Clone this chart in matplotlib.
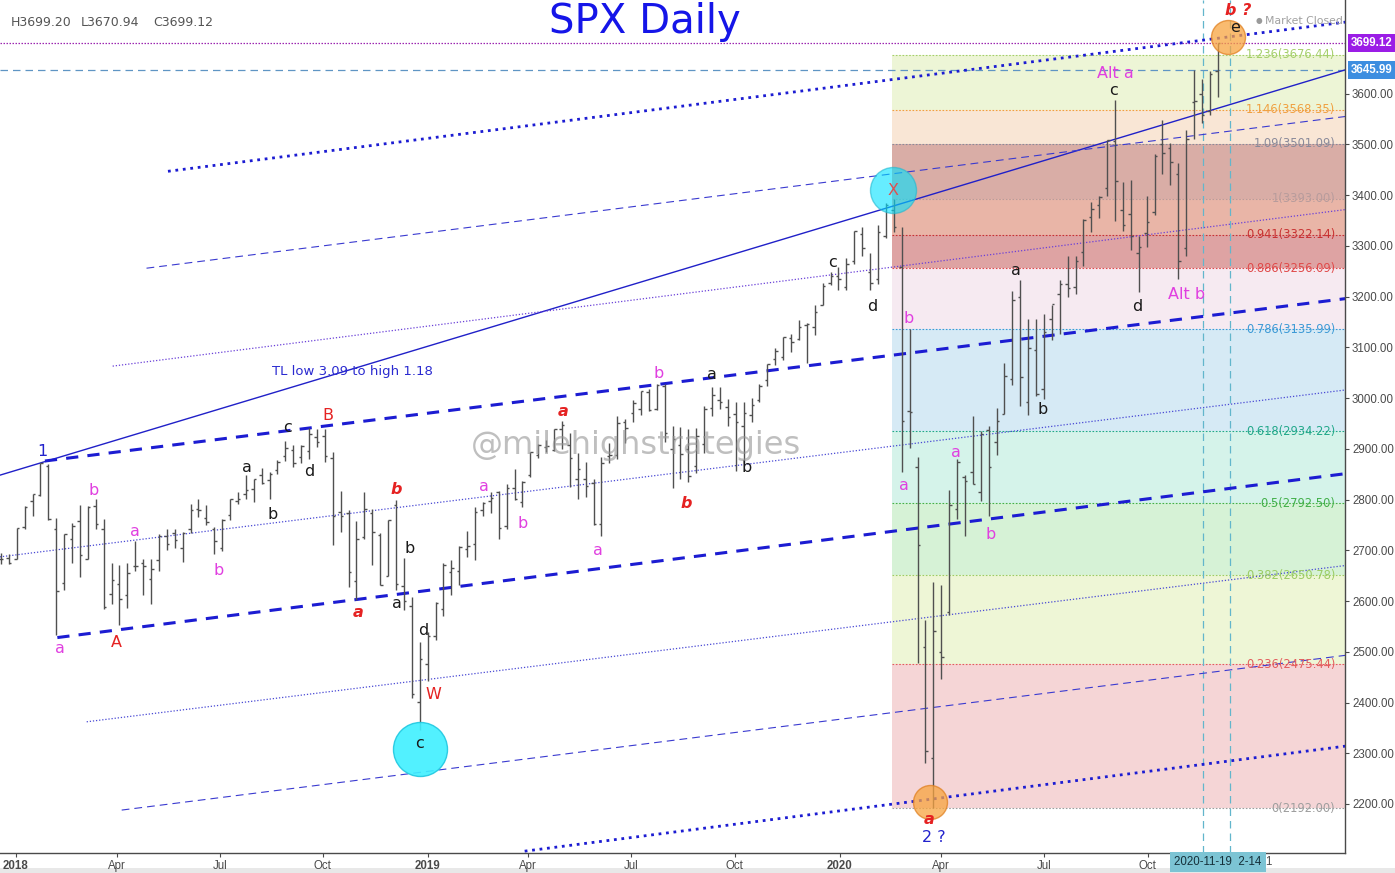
import matplotlib
matplotlib.use("Agg")
import matplotlib.pyplot as plt
import matplotlib.dates as mdates
import numpy as np
import pandas as pd
from matplotlib.collections import LineCollection
from matplotlib.patches import Rectangle

# ---------------- data (weekly OHLC of SPX, week ending Friday) ----------------
week_end = pd.date_range("2017-12-22", "2020-12-04", freq="W-FRI")

opens = [2683, 2684,
         2683, 2745, 2798, 2809, 2867, 2742, 2636, 2722, 2757, 2682, 2787, 2741, 2613,
         2634, 2611, 2670, 2675, 2643, 2680, 2728, 2735, 2705, 2742, 2781, 2763, 2742,
         2705, 2769, 2797, 2810, 2821, 2849, 2838, 2858, 2885, 2897, 2884, 2896, 2924,
         2926, 2882, 2775, 2773, 2640, 2726, 2773, 2730, 2649, 2790, 2630, 2590, 2401,
         2476, 2531, 2585, 2657, 2660, 2703, 2712, 2780, 2798, 2814, 2748, 2822, 2796,
         2848, 2888, 2904, 2898, 2940, 2908, 2840, 2841, 2832, 2751, 2885, 2887, 2952,
         2971, 2979, 3012, 2978, 3024, 2899, 2908, 2900, 2866, 2910, 2980, 2997, 2983,
         2968, 2945, 2966, 2996, 3035, 3078, 3081, 3118, 3117, 3144, 3141, 3183, 3227,
         3240, 3218, 3271, 3323, 3248, 3235, 3319, 3370, 3258, 2974, 2864, 2509, 2290,
         2499, 2578, 2782, 2845, 2854, 2815, 2937, 2913, 2969, 3038, 3199, 2993, 3094,
         3018, 3155, 3205, 3224, 3219, 3288, 3356, 3380, 3415, 3507, 3370, 3363, 3285,
         3325, 3367, 3500, 3493, 3441, 3296, 3583, 3600, 3566, 3645]
highs = [2695, 2692,
         2743, 2787, 2810, 2873, 2870, 2763, 2733, 2754, 2789, 2787, 2802, 2762, 2675,
         2672, 2674, 2718, 2683, 2682, 2732, 2742, 2742, 2737, 2791, 2801, 2790, 2746,
         2762, 2802, 2815, 2848, 2841, 2863, 2855, 2877, 2916, 2907, 2908, 2941, 2940,
         2940, 2894, 2816, 2779, 2757, 2815, 2781, 2735, 2760, 2800, 2685, 2607, 2520,
         2539, 2598, 2675, 2681, 2709, 2738, 2785, 2795, 2814, 2816, 2830, 2860, 2836,
         2894, 2910, 2918, 2940, 2954, 2931, 2892, 2874, 2840, 2884, 2911, 2964, 2959,
         2996, 3014, 3017, 3028, 3027, 2945, 2944, 2939, 2941, 2985, 3021, 3022, 2999,
         2993, 2993, 3000, 3027, 3067, 3098, 3120, 3127, 3154, 3148, 3183, 3226, 3248,
         3258, 3276, 3330, 3337, 3286, 3342, 3385, 3393, 3337, 3136, 2883, 2562, 2637,
         2632, 2819, 2880, 2848, 2965, 2935, 2945, 2981, 3069, 3211, 3233, 3156, 3155,
         3165, 3184, 3233, 3280, 3280, 3352, 3387, 3399, 3509, 3588, 3425, 3429, 3320,
         3398, 3482, 3549, 3502, 3464, 3529, 3646, 3628, 3644, 3699]
lows = [2673, 2673,
        2683, 2742, 2768, 2808, 2759, 2533, 2622, 2675, 2647, 2682, 2742, 2585, 2594,
        2553, 2587, 2660, 2612, 2594, 2660, 2701, 2705, 2676, 2735, 2765, 2749, 2692,
        2698, 2760, 2791, 2801, 2795, 2830, 2802, 2851, 2876, 2864, 2873, 2879, 2904,
        2874, 2710, 2737, 2628, 2603, 2722, 2671, 2632, 2649, 2621, 2583, 2409, 2346,
        2443, 2524, 2570, 2612, 2631, 2687, 2681, 2767, 2774, 2722, 2741, 2800, 2785,
        2845, 2882, 2893, 2896, 2900, 2825, 2801, 2805, 2750, 2728, 2873, 2880, 2912,
        2952, 2966, 2975, 2976, 2914, 2822, 2840, 2834, 2853, 2891, 2964, 2978, 2945,
        2856, 2873, 2952, 2993, 3023, 3066, 3075, 3091, 3115, 3070, 3124, 3183, 3223,
        3214, 3214, 3264, 3280, 3214, 3224, 3315, 3328, 2855, 2902, 2478, 2281, 2192,
        2447, 2573, 2761, 2728, 2830, 2797, 2767, 2888, 2969, 3025, 2984, 2966, 3004,
        2999, 3115, 3127, 3200, 3205, 3260, 3328, 3355, 3398, 3349, 3330, 3292, 3209,
        3297, 3361, 3441, 3419, 3234, 3280, 3511, 3543, 3558, 3594]
closes = [2683, 2674,
          2743, 2786, 2810, 2873, 2762, 2620, 2732, 2747, 2691, 2786, 2752, 2588, 2641,
          2604, 2656, 2670, 2670, 2663, 2728, 2713, 2721, 2735, 2779, 2780, 2755, 2718,
          2760, 2801, 2802, 2819, 2840, 2833, 2850, 2875, 2902, 2872, 2905, 2930, 2914,
          2886, 2767, 2768, 2658, 2723, 2781, 2736, 2632, 2760, 2633, 2600, 2417, 2486,
          2532, 2596, 2671, 2665, 2707, 2708, 2776, 2793, 2804, 2743, 2822, 2801, 2834,
          2893, 2907, 2905, 2940, 2946, 2881, 2860, 2826, 2752, 2873, 2887, 2950, 2942,
          2990, 3014, 2977, 3026, 2932, 2919, 2889, 2847, 2926, 2979, 3007, 2992, 2962,
          2952, 2970, 2986, 3023, 3067, 3093, 3120, 3110, 3141, 3146, 3169, 3221, 3240,
          3235, 3265, 3330, 3295, 3226, 3328, 3380, 3338, 2954, 2972, 2711, 2305, 2541,
          2489, 2790, 2875, 2837, 2831, 2930, 2864, 2955, 3044, 3194, 3041, 3098, 3009,
          3130, 3185, 3225, 3216, 3271, 3351, 3373, 3397, 3508, 3427, 3341, 3319, 3298,
          3348, 3477, 3484, 3465, 3270, 3510, 3585, 3558, 3638, 3699]

# Fibonacci retracement (Feb 2020 high -> Mar 2020 low)
fib_ratios = ["0", "0.236", "0.382", "0.5", "0.618", "0.786", "0.886", "0.941",
              "1", "1.09", "1.146", "1.236"]
fib_prices = [2192.00, 2475.44, 2650.78, 2792.50, 2934.22, 3135.99, 3256.09,
              3322.14, 3393.00, 3501.09, 3568.35, 3676.44]
fib_text_colors = ["#9e9e9e", "#e35d5d", "#9ccc65", "#43b04a", "#22a88a", "#3d9ad6",
                   "#e04a4a", "#c83232", "#b89c9c", "#8a8a9a", "#f0a040", "#a5cf6a"]
fib_band_colors = ["#f5d5d6", "#eef6d6", "#d6f2d6", "#d5f3ea", "#d6eaf5", "#f6eaf1",
                   "#dea3a3", "#e9b5a7", "#d9ada6", "#f9e6d5", "#edf5d6"]

last_close = 3699.12
line_value = 3645.99

y_ticks = [2200, 2300, 2400, 2500, 2600, 2700, 2800, 2900, 3000,
           3100, 3200, 3300, 3400, 3500, 3600]
x_tick_dates = ["2018-01-02", "2018-04-02", "2018-07-02", "2018-10-01",
                "2019-01-02", "2019-04-01", "2019-07-01", "2019-10-01",
                "2020-01-02", "2020-04-01", "2020-07-01", "2020-10-01"]
x_tick_labels = ["2018", "Apr", "Jul", "Oct", "2019", "Apr", "Jul", "Oct",
                 "2020", "Apr", "Jul", "Oct"]

# ---------------- figure ----------------
W, H = 1395, 873
fig = plt.figure(figsize=(W / 100, H / 100), dpi=100)
fig.patch.set_facecolor("white")
ax = fig.add_axes([0, 20 / H, 1345 / W, 853 / H])
ax.set_facecolor("white")


def dn(s):
    return mdates.date2num(pd.Timestamp(s))


D0 = dn("2018-01-02")
xl, xr = D0 - 13.8, D0 + 1177.7
ax.set_xlim(xl, xr)
ax.set_ylim(2103.4, 3784.6)

# ---- Fibonacci bands ----
xs = dn("2020-02-17")
for i, c in enumerate(fib_band_colors):
    lo, hi = fib_prices[i], fib_prices[i + 1]
    ax.add_patch(Rectangle((xs, lo), xr - xs, hi - lo, facecolor=c,
                           edgecolor="none", zorder=0))
for r, p, c in zip(fib_ratios, fib_prices, fib_text_colors):
    ax.hlines(p, xs, xr, colors=c, linestyles=(0, (1.5, 1.5)), lw=0.8, zorder=0.5)
    ax.annotate(f"{r}({p:.2f})", xy=(xr, p), xytext=(-7, 0),
                textcoords="offset points", ha="right", va="center",
                fontsize=8.3, color=c, zorder=6)

# ---- horizontal / vertical guide lines ----
ax.axhline(last_close, color="#9c27b0", lw=0.9, ls=(0, (1.2, 1.2)), zorder=1)
ax.axhline(line_value, color="#5f95c4", lw=0.9, ls=(0, (6, 4)), zorder=1)
for d in ["2020-11-19", "2020-12-13"]:
    ax.axvline(dn(d), color="#62b6cc", lw=0.9, ls=(0, (6, 4)), zorder=1)

# ---- trend lines ----
blue_thick = "#1c1cd2"
blue_thin = "#3a3ad0"
trend_lines = [
    # (start, p1, end, p2, color, lw, linestyle)
    ("2017-12-19", 2848, "2021-03-25", 3647, "#2020c8", 1.0, "-"),
    ("2018-05-17", 3447, "2021-03-25", 3741, blue_thick, 2.0, (0, (1, 1.7))),
    ("2018-04-28", 3256, "2021-03-25", 3555, blue_thin, 0.8, (0, (7, 4.5))),
    ("2018-03-29", 3063, "2021-03-25", 3371.5, "#6a40d8", 0.9, (0, (1, 1.5))),
    ("2018-01-28", 2876, "2021-03-25", 3196, blue_thick, 2.2, (0, (4, 3))),
    ("2017-12-19", 2687, "2021-03-25", 3016, "#4848d4", 0.9, (0, (1, 1.5))),
    ("2018-02-08", 2528, "2021-03-25", 2851, blue_thick, 2.2, (0, (4, 3))),
    ("2018-03-06", 2362, "2021-03-25", 2670, "#4848d4", 0.9, (0, (1, 1.5))),
    ("2018-04-06", 2188, "2021-03-25", 2493, blue_thin, 0.8, (0, (7, 4.5))),
    ("2019-03-29", 2107, "2021-03-25", 2314, blue_thick, 2.0, (0, (1, 1.7))),
]
for d1, p1, d2, p2, c, lw, ls in trend_lines:
    ax.plot([dn(d1), dn(d2)], [p1, p2], color=c, lw=lw, ls=ls, zorder=2,
            solid_capstyle="butt", dash_capstyle="butt")

# ---- OHLC bars ----
xb = mdates.date2num(week_end - pd.Timedelta(days=2))
tick = 2.2
segs = []
for x, o, h, l, c in zip(xb, opens, highs, lows, closes):
    segs.append([(x, l), (x, h)])
    segs.append([(x - tick, o), (x, o)])
    segs.append([(x, c), (x + tick, c)])
ax.add_collection(LineCollection(segs, colors="#505050", linewidths=1.0, zorder=3))


# ---- circles ----
def circ(d, p, r, fc, ec, alpha):
    s = (2 * r * 72 / 100) ** 2
    ax.scatter([dn(d)], [p], s=s, facecolor=fc, edgecolor=ec, alpha=alpha,
               linewidths=1.0, zorder=4)


circ("2020-02-18", 3410, 23, "#00e1ff", "#20b8d0", 0.6)
circ("2018-12-26", 2308, 27, "#3ff0ff", "#20c8e0", 0.9)
circ("2020-03-22", 2203, 17, "#f7a440", "#e08020", 0.75)
circ("2020-12-11", 3712, 17, "#f7a440", "#e08020", 0.75)

# ---- wave labels ----
MAG, BLK, RED, BLU = "#e040e0", "#1a1a1a", "#e52222", "#2222cc"
labels = [
    ("2018-01-26", 2895, "1", BLU, "normal"),
    ("2018-03-12", 2818, "b", MAG, "normal"),
    ("2018-02-10", 2507, "a", MAG, "normal"),
    ("2018-04-01", 2519, "A", RED, "normal"),
    ("2018-04-18", 2738, "a", MAG, "normal"),
    ("2018-07-01", 2661, "b", MAG, "normal"),
    ("2018-07-26", 2864, "a", BLK, "normal"),
    ("2018-08-18", 2771, "b", BLK, "normal"),
    ("2018-08-31", 2943, "c", BLK, "normal"),
    ("2018-09-19", 2856, "d", BLK, "normal"),
    ("2018-10-06", 2966, "B", RED, "normal"),
    ("2018-11-01", 2578, "a", RED, "bi"),
    ("2018-12-05", 2820, "b", RED, "bi"),
    ("2018-12-17", 2704, "b", BLK, "normal"),
    ("2018-12-06", 2596, "a", BLK, "normal"),
    ("2018-12-29", 2542, "d", BLK, "normal"),
    ("2019-01-07", 2415, "W", RED, "normal"),
    ("2018-12-26", 2319, "c", BLK, "normal"),
    ("2019-02-21", 2826, "a", MAG, "normal"),
    ("2019-03-27", 2753, "b", MAG, "normal"),
    ("2019-05-02", 2974, "a", RED, "bi"),
    ("2019-06-02", 2700, "a", MAG, "normal"),
    ("2019-07-26", 3049, "b", MAG, "normal"),
    ("2019-08-19", 2793, "b", RED, "bi"),
    ("2019-09-11", 3047, "a", BLK, "normal"),
    ("2019-10-12", 2864, "b", BLK, "normal"),
    ("2019-12-27", 3268, "c", BLK, "normal"),
    ("2020-01-31", 3181, "d", BLK, "normal"),
    ("2020-02-18", 3410, "X", "#e05050", "normal"),
    ("2020-03-03", 3156, "b", MAG, "normal"),
    ("2020-02-28", 2828, "a", MAG, "normal"),
    ("2020-04-14", 2893, "a", MAG, "normal"),
    ("2020-05-15", 2732, "b", MAG, "normal"),
    ("2020-03-21", 2170, "a", RED, "bi"),
    ("2020-03-25", 2134, "2 ?", BLU, "normal"),
    ("2020-06-06", 3252, "a", BLK, "normal"),
    ("2020-06-30", 2978, "b", BLK, "normal"),
    ("2020-09-02", 3639, "Alt a", MAG, "normal"),
    ("2020-09-01", 3607, "c", BLK, "normal"),
    ("2020-09-22", 3181, "d", BLK, "normal"),
    ("2020-11-04", 3205, "Alt b", MAG, "normal"),
    ("2020-12-17", 3731, "e", BLK, "normal"),
    ("2020-12-20", 3763, "b ?", RED, "bi"),
]
for d, p, t, c, st in labels:
    if st == "bi":
        ax.text(dn(d), p, t, color=c, fontsize=11.5, fontweight="bold",
                fontstyle="italic", ha="center", va="center", zorder=6)
    else:
        ax.text(dn(d), p, t, color=c, fontsize=11.5, ha="center", va="center",
                zorder=6)

ax.text(dn("2018-10-27"), 3053, "TL low 3.09 to high 1.18", color="#2a2ad0",
        fontsize=9.5, ha="center", va="center", zorder=6)

# watermark
fig.text(636 / W, 1 - 446 / H, "@milehighstrategies", fontsize=23,
         color="#959595", alpha=0.6, ha="center", va="center", zorder=10)

# ---- axes styling ----
for s in ["left", "top"]:
    ax.spines[s].set_visible(False)
for s in ["right", "bottom"]:
    ax.spines[s].set_color("#4a4a4a")
    ax.spines[s].set_linewidth(1.0)

ax.yaxis.tick_right()
ax.set_yticks(y_ticks)
ax.set_yticklabels([f"{v:.2f}" for v in y_ticks])
ax.tick_params(axis="y", length=3, pad=2, labelsize=8.3, colors="#4a4a4a",
               labelcolor="#4a4a4a")
ax.set_xticks([dn(d) for d in x_tick_dates])
ax.set_xticklabels(x_tick_labels)
ax.tick_params(axis="x", length=3, pad=2, labelsize=8.3, colors="#4a4a4a",
               labelcolor="#4a4a4a")
for lab in ax.get_xticklabels() + ax.get_yticklabels():
    lab.set_family(["Liberation Sans", "DejaVu Sans"])
for lab in ax.get_xticklabels():
    if lab.get_text().isdigit():
        lab.set_fontweight("bold")

# price tag boxes on the right axis
for val, col in [(last_close, "#9b1de6"), (line_value, "#3d8ee0")]:
    ax.annotate(f"{val:.2f}", xy=(1.0, val), xycoords=("axes fraction", "data"),
                xytext=(4, 0), textcoords="offset points", ha="left", va="center",
                fontsize=8.3, color="white", fontweight="bold",
                family=["Liberation Sans", "DejaVu Sans"],
                bbox=dict(boxstyle="square,pad=0.25", facecolor=col,
                          edgecolor="none"), zorder=7, annotation_clip=False)

# crosshair date label
fig.text(1218 / W, 1 - 862 / H, "2020-11-19  2-14", fontsize=8.3, color="#15303a",
         ha="center", va="center", family=["Liberation Sans", "DejaVu Sans"],
         bbox=dict(boxstyle="square,pad=0.35", facecolor="#7cc4d4", edgecolor="none"))
fig.text(1265 / W, 1 - 862 / H, "1", fontsize=8.3, color="#4a4a4a",
         ha="left", va="center", family=["Liberation Sans", "DejaVu Sans"])

# header texts
fig.text(11 / W, 1 - 22 / H, "H3699.20", fontsize=9, color="#555555",
         ha="left", va="center")
fig.text(81 / W, 1 - 22 / H, "L3670.94", fontsize=9, color="#555555",
         ha="left", va="center")
fig.text(153 / W, 1 - 22 / H, "C3699.12", fontsize=9, color="#555555",
         ha="left", va="center")
fig.text(645 / W, 1 - 22 / H, "SPX Daily", fontsize=29, color="#1515e8",
         ha="center", va="center")
fig.text(1259 / W, 1 - 21 / H, "\u25CF", fontsize=5.5, color="#9a9a9a",
         ha="center", va="center")
fig.text(1265 / W, 1 - 21 / H, "Market Closed", fontsize=7.8, color="#a0a0a0",
         ha="left", va="center")

# bottom strip
fig.patches.append(Rectangle((0, 0), 1, 5 / H, transform=fig.transFigure,
                             facecolor="#e8e8e8", edgecolor="none", zorder=-1))

fig.savefig("out.png", dpi=100)
